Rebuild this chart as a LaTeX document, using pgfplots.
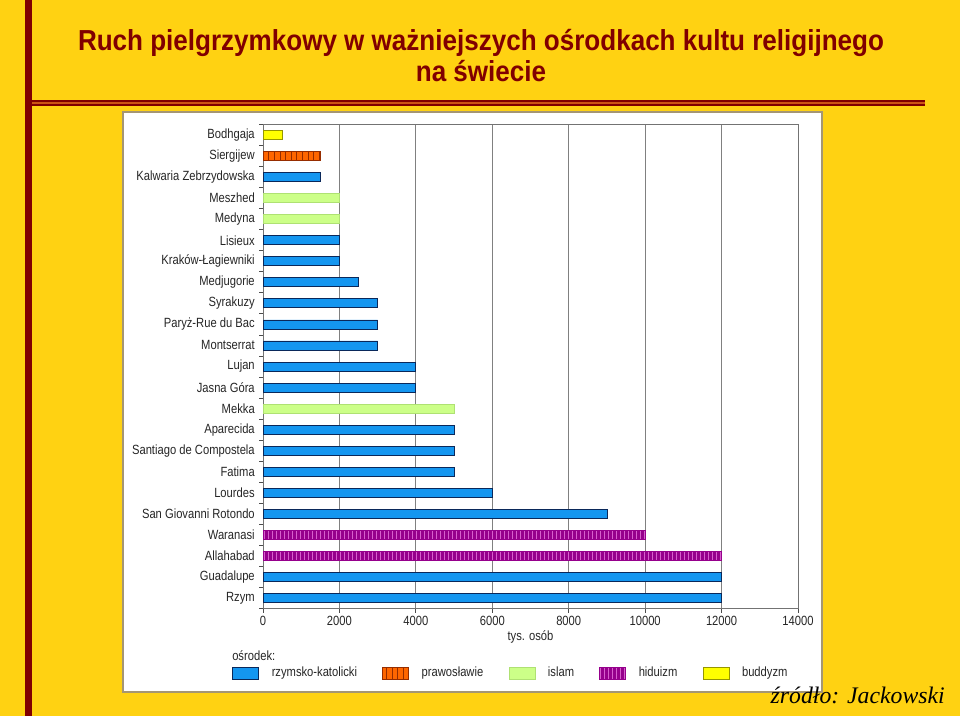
\documentclass[border=0pt]{standalone}
\usepackage{fontspec}
\setmainfont{Liberation Sans}
\newfontfamily\narrowfont[FakeStretch=0.84]{Liberation Sans}
\newfontfamily\titlefont[FakeStretch=0.9]{Liberation Sans}
\newfontfamily\srcfont{Liberation Serif}
\usepackage{pgfplots}
\usepackage{pgfplotstable}
\pgfplotsset{compat=1.18}
\usetikzlibrary{patterns.meta}
\definecolor{bgyellow}{RGB}{255,210,18}
\definecolor{darkred}{RGB}{128,0,0}
\definecolor{stripe}{RGB}{205,85,20}
\definecolor{katfill}{RGB}{20,150,240}
\definecolor{katdraw}{RGB}{10,40,90}
\definecolor{prafill}{RGB}{255,102,0}
\definecolor{pradraw}{RGB}{150,45,0}
\definecolor{islfill}{RGB}{204,255,136}
\definecolor{isldraw}{RGB}{175,225,115}
\definecolor{hinfill}{RGB}{150,0,140}
\definecolor{hinstripe}{RGB}{215,95,205}
\definecolor{budfill}{RGB}{255,255,0}
\definecolor{buddraw}{RGB}{150,150,0}
\definecolor{panelborder}{RGB}{165,150,115}

% y index: 0 = top (Bodhgaja) ... 22 = bottom (Rzym)
\pgfplotstableread{
y x
2 1500
5 2000
6 2000
7 2500
8 3000
9 3000
10 3000
11 4000
12 4000
14 5000
15 5000
16 5000
17 6000
18 9000
21 12000
22 12000
}\katdata
\pgfplotstableread{
y x
1 1500
}\pradata
\pgfplotstableread{
y x
3 2000
4 2000
13 5000
}\isldata
\pgfplotstableread{
y x
19 10000
20 12000
}\hindata
\pgfplotstableread{
y x
0 500
}\buddata

\begin{document}
\begin{tikzpicture}
\useasboundingbox (0,0) rectangle (720pt,-537pt);
\begin{scope}[x=0.75pt,y=-0.75pt]
  \fill[bgyellow] (0,0) rectangle (960,716);
  \fill[darkred] (25,0) rectangle (32,716);
  \fill[darkred] (32,100) rectangle (925,106.5);
  \fill[stripe] (32,102.3) rectangle (925,104.2);
  \filldraw[fill=white, draw=panelborder, line width=1.1pt] (123,112) rectangle (822,692);
\end{scope}

\begin{axis}[
  at={(197.25pt,-456.375pt)}, anchor=south west,
  scale only axis, width=401.25pt, height=363pt,
  xbar, bar shift=0pt, bar width=6.75pt,
  xmin=0, xmax=14000,
  ymin=-0.5, ymax=22.5, y dir=reverse,
  xtick={0,2000,...,14000},
  scaled x ticks=false,
  ytick={0,...,22},
  minor ytick={-0.5,0.5,...,22.5},
  yticklabels={Bodhgaja,Siergijew,Kalwaria Zebrzydowska,Meszhed,Medyna,Lisieux,Kraków-Łagiewniki,Medjugorie,Syrakuzy,Paryż-Rue du Bac,Montserrat,Lujan,Jasna Góra,Mekka,Aparecida,Santiago de Compostela,Fatima,Lourdes,San Giovanni Rotondo,Waranasi,Allahabad,Guadalupe,Rzym},
  tick pos=left, tick align=outside,
  major tick length=3pt, minor tick length=3pt,
  major y tick style={draw=none},
  minor y tick style={draw=black!70, line width=0.6pt},
  major x tick style={draw=black!70, line width=0.6pt},
  xmajorgrids,
  major x grid style={draw=black!50, line width=0.75pt},
  axis line style={draw=black!55, line width=0.75pt},
  /pgf/number format/1000 sep={},
  /pgf/number format/assume math mode=true,
  tick label style={font=\narrowfont\fontsize{10pt}{12pt}\selectfont, text=black!85},
  yticklabel style={inner xsep=0pt, xshift=-3pt},
  xticklabel style={inner ysep=1pt, yshift=-1.5pt},
  xlabel={tys. osób},
  xlabel style={font=\narrowfont\fontsize{10pt}{12pt}\selectfont, text=black!85, at={(axis description cs:0.5,-0.0589)}, anchor=center},
  legend columns=5,
  legend style={at={(axis description cs:-0.0579,-0.1333)}, anchor=west, draw=none, fill=none, inner sep=0pt,
    font=\narrowfont\fontsize{10pt}{12pt}\selectfont, text=black!85,
    nodes={inner sep=0pt},
    /tikz/every even column/.append style={column sep=19pt},
    /tikz/every odd column/.append style={column sep=9.5pt}},
  legend image code/.code={\draw[#1] (0pt,-4.5pt) rectangle (19.5pt,4.5pt);},
]
\addplot[fill=katfill, draw=katdraw, line width=0.6pt] table[x=x,y=y]{\katdata};
\addlegendentry{rzymsko-katolicki}
\addplot[fill=prafill, draw=pradraw, line width=0.5pt, postaction={pattern={Lines[angle=90,distance=4.2pt,line width=0.6pt]}, pattern color=pradraw}] table[x=x,y=y]{\pradata};
\addlegendentry{prawosławie}
\addplot[fill=islfill, draw=isldraw, line width=0.5pt] table[x=x,y=y]{\isldata};
\addlegendentry{islam}
\addplot[fill=hinfill, draw=hinfill, line width=0.5pt, postaction={pattern={Lines[angle=90,distance=3pt,line width=0.6pt]}, pattern color=hinstripe}] table[x=x,y=y]{\hindata};
\addlegendentry{hiduizm}
\addplot[fill=budfill, draw=buddraw, line width=0.5pt] table[x=x,y=y]{\buddata};
\addlegendentry{buddyzm}
\end{axis}

\begin{scope}[x=0.75pt,y=-0.75pt]
  \node[anchor=base, text=darkred, font=\titlefont\bfseries\fontsize{21.7pt}{25pt}\selectfont, inner sep=0pt] at (481,51) {Ruch pielgrzymkowy w ważniejszych ośrodkach kultu religijnego};
  \node[anchor=base, text=darkred, font=\titlefont\bfseries\fontsize{21.7pt}{25pt}\selectfont, inner sep=0pt] at (481,82) {na świecie};
  \node[anchor=base west, inner sep=0pt, text=black!85, font=\narrowfont\fontsize{10pt}{12pt}\selectfont] at (232,660) {ośrodek:};
  \node[anchor=base east, inner sep=0pt, font=\srcfont\itshape\fontsize{17.8pt}{20pt}\selectfont] at (945,703) {źródło: Jackowski};
\end{scope}
\end{tikzpicture}
\end{document}
